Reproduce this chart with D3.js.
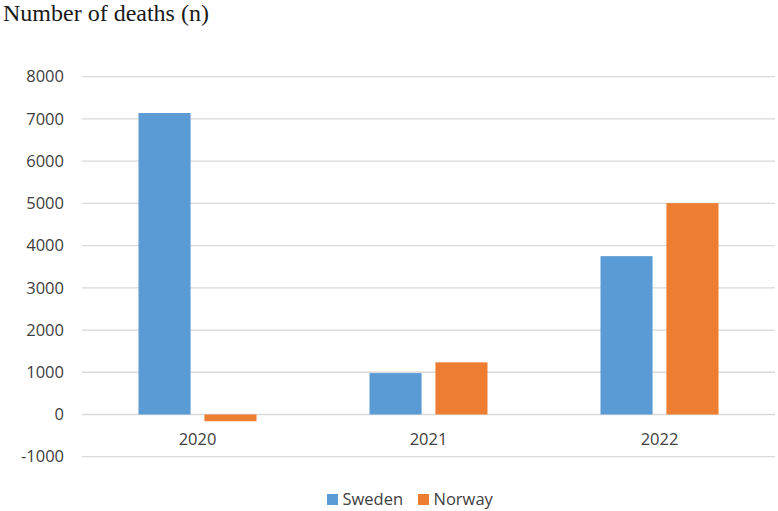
<!DOCTYPE html>
<html>
<head>
<meta charset="utf-8">
<script src="https://cdn.jsdelivr.net/npm/d3@7"></script>
<style>
  body { margin: 0; background: #fff; }
  svg { display: block; }
</style>
</head>
<body>
<script>
// data
var years = ["2020", "2021", "2022"];
var seriesNames = ["Sweden", "Norway"];
var sweden = [7140, 980, 3750];
var norway = [-160, 1235, 5005];
var yTicks = [-1000, 0, 1000, 2000, 3000, 4000, 5000, 6000, 7000, 8000];
var colors = ["#5B9BD5", "#ED7D31"];

var w = 778, h = 511;
var plotLeft = 82, plotRight = 775;
var plotTop = 76.7, plotBottom = 456.7;

var svg = d3.select("body").append("svg")
  .attr("width", w)
  .attr("height", h);

var y = d3.scaleLinear().domain([-1000, 8000]).range([plotBottom, plotTop]);
var x = d3.scaleBand().domain(years).range([plotLeft, plotRight]).paddingInner(0).paddingOuter(0);
// inner scale for the two bars in each year
var xs = d3.scaleBand().domain(seriesNames).range([56.5, x.bandwidth() - 56.5]).paddingInner(0.21);

// title
svg.append("text")
  .attr("x", 3)
  .attr("y", 21)
  .attr("font-family", "Liberation Serif, Times New Roman, serif")
  .attr("font-size", "24px")
  .attr("fill", "#1a1a1a")
  .text("Number of deaths (n)");

// grid lines
svg.append("g")
  .selectAll("line")
  .data(yTicks)
  .enter()
  .append("line")
  .attr("x1", plotLeft)
  .attr("x2", plotRight)
  .attr("y1", function(d) { return y(d); })
  .attr("y2", function(d) { return y(d); })
  .attr("stroke", "#d9d9d9")
  .attr("stroke-width", 1.3);

// y axis labels (plain hyphen for negatives, like the original)
var yAxis = d3.axisLeft(y).tickValues(yTicks).tickSize(0).tickPadding(0)
  .tickFormat(function(d) { return String(d); });
var ya = svg.append("g").attr("transform", "translate(64,0)").call(yAxis);
ya.select(".domain").remove();
ya.selectAll("text")
  .attr("font-family", "Open Sans, sans-serif")
  .attr("font-size", "16.5px")
  .attr("fill", "#404040");

// bars
var rows = years.map(function(yr, i) {
  return { year: yr, values: [sweden[i], norway[i]] };
});

var groups = svg.selectAll(".year")
  .data(rows)
  .enter()
  .append("g")
  .attr("class", "year")
  .attr("transform", function(d) { return "translate(" + x(d.year) + ",0)"; });

groups.selectAll("rect")
  .data(function(d) { return d.values.map(function(v, j) { return { name: seriesNames[j], v: v, j: j }; }); })
  .enter()
  .append("rect")
  .attr("x", function(d) { return xs(d.name); })
  .attr("width", xs.bandwidth())
  .attr("y", function(d) { return y(Math.max(0, d.v)); })
  .attr("height", function(d) { return Math.abs(y(d.v) - y(0)); })
  .attr("fill", function(d) { return colors[d.j]; });

// x axis labels
var xAxis = d3.axisBottom(x).tickSize(0).tickPadding(0);
var xa = svg.append("g").attr("transform", "translate(0,433)").call(xAxis);
xa.select(".domain").remove();
xa.selectAll("text")
  .attr("font-family", "Open Sans, sans-serif")
  .attr("font-size", "16.5px")
  .attr("fill", "#404040");

// legend
var legendX = [327, 418];
var lg = svg.selectAll(".legend")
  .data(seriesNames)
  .enter()
  .append("g")
  .attr("class", "legend")
  .attr("transform", function(d, i) { return "translate(" + legendX[i] + ",494)"; });

lg.append("rect")
  .attr("width", 11)
  .attr("height", 11)
  .attr("fill", function(d, i) { return colors[i]; });

lg.append("text")
  .attr("x", 15.5)
  .attr("y", 11)
  .attr("font-family", "Open Sans, sans-serif")
  .attr("font-size", "16.5px")
  .attr("fill", "#404040")
  .text(function(d) { return d; });
</script>
</body>
</html>
